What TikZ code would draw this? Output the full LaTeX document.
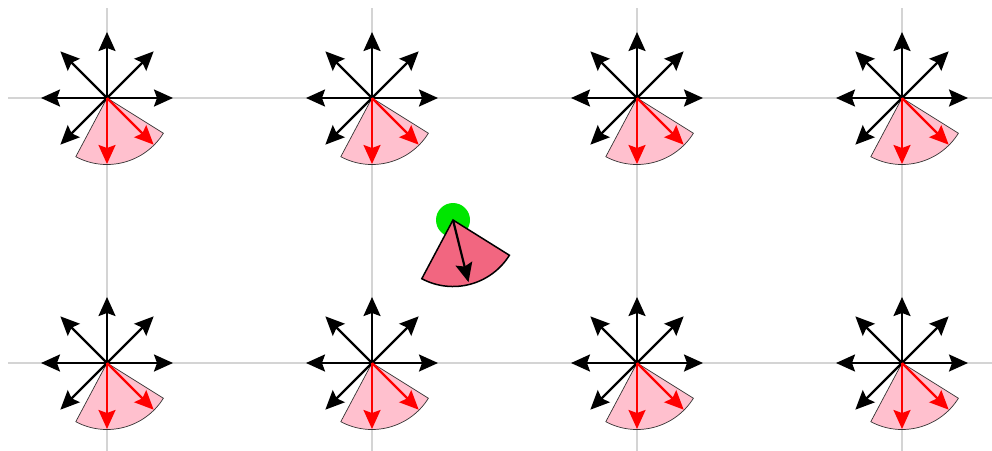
\documentclass[tikz,border=0pt]{standalone}
\usetikzlibrary{arrows.meta}
\definecolor{gridgray}{RGB}{212,212,212}
\definecolor{wedgepink}{RGB}{255,192,206}
\definecolor{robotred}{RGB}{242,102,128}
\definecolor{robotgreen}{RGB}{0,230,0}
\tikzset{
  gridline/.style={gridgray, line width=1.2pt},
  dirarrow/.style={line width=2.2pt, -{Stealth[length=19pt,width=17pt,inset=3pt]}},
  fan/.style={fill=wedgepink, draw=black!80, line width=0.7pt},
  robotfan/.style={fill=robotred, draw=black, line width=1.5pt},
}
\begin{document}
\begin{tikzpicture}[x=1pt,y=-1pt]
\useasboundingbox (0,0) rectangle (992,450);
% grid
\foreach \gx in {107,372,637,902} \draw[gridline] (\gx,8) -- (\gx,460);
\foreach \gy in {98,363} \draw[gridline] (8,\gy) -- (1000,\gy);
% stars
\foreach \gx in {107,372,637,902} {
  \foreach \gy in {98,363} {
    \coordinate (c) at (\gx,\gy);
    \draw[fan] (c) -- ++(118:66.5) arc[start angle=118, end angle=32, radius=66.5] -- cycle;
    \foreach \a in {0,45,90,135,180,225} \draw[dirarrow,black] (c) -- ++(-\a:66);
    \foreach \a in {270,315} \draw[dirarrow,red] (c) -- ++(-\a:66);
  }
}
% robot
\coordinate (r) at (453,220);
\fill[robotgreen] (r) circle[radius=17];
\draw[robotfan] (r) -- ++(118:66.5) arc[start angle=118, end angle=32, radius=66.5] -- cycle;
\draw[dirarrow,black] (r) -- ++(-284:64);
\end{tikzpicture}
\end{document}
